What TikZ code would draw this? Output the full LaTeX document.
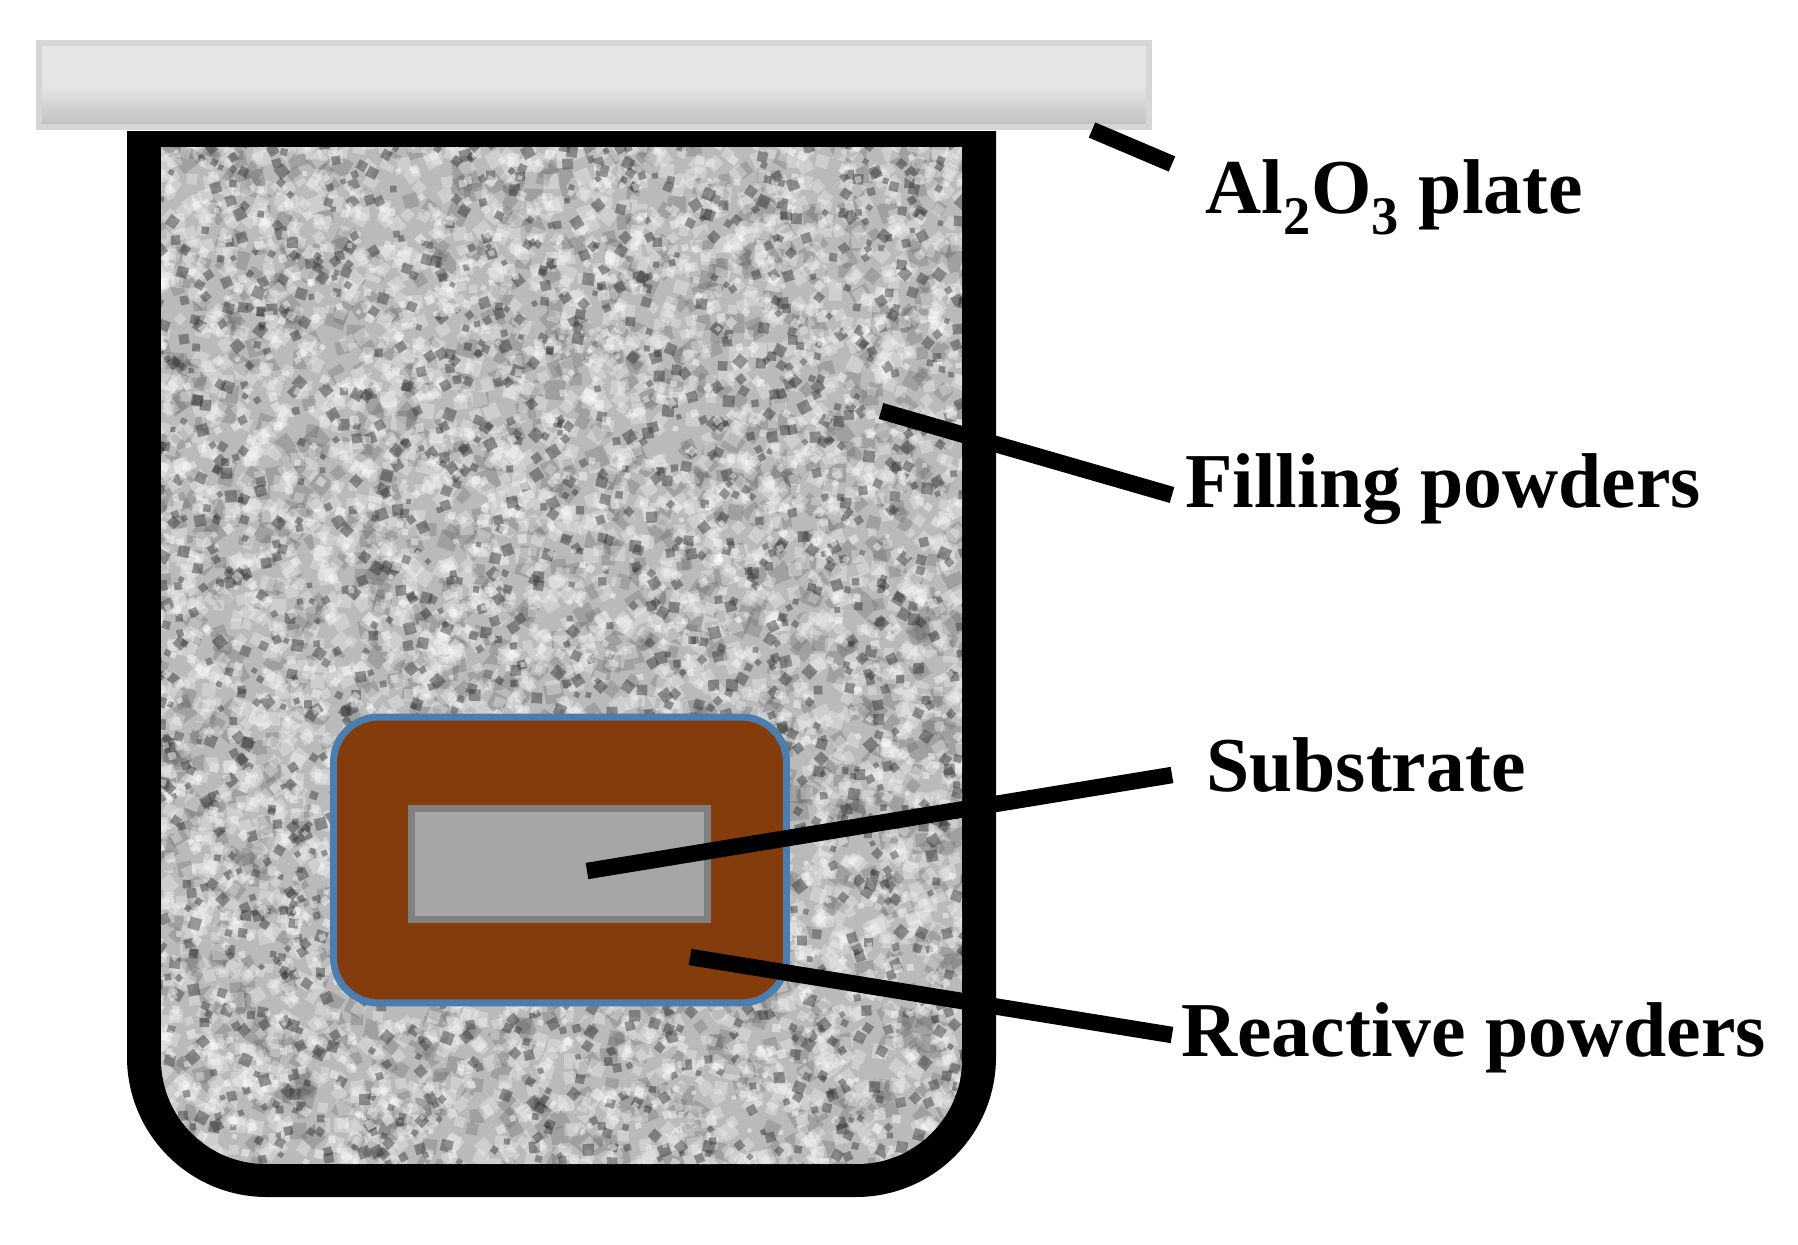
\documentclass[tikz,border=0pt]{standalone}
\usepackage{fontspec}
\setmainfont{Liberation Serif}
\usepackage{tikz}
\usetikzlibrary{positioning}
\definecolor{platefill}{HTML}{E6E6E6}
\definecolor{platelow}{HTML}{BEBEBE}
\definecolor{plateedge}{HTML}{D6D6D6}
\definecolor{brownfill}{HTML}{843C0C}
\definecolor{blueedge}{HTML}{4A7EB0}
\newcommand{\speckle}[4]{
  \foreach \n in {1,...,#1} {
    \pgfmathsetmacro{\px}{150+820*rnd}
    \pgfmathsetmacro{\py}{140+1030*rnd}
    \pgfmathsetmacro{\pr}{#2+#3*rnd}
    \pgfmathsetmacro{\pt}{360*rnd}
    \fill [#4] (\px,\py) -- ++(\pt:\pr) -- ++(\pt+90:\pr) -- ++(\pt+180:\pr) -- cycle;
  }
}

\begin{document}
\begin{tikzpicture}[x=0.02cm,y=-0.02cm]
  \tikzstyle{leader} = [line width=0.33cm,black]
  \tikzstyle{callout} = [inner sep=0pt,font=\fontsize{44.2}{52}\selectfont\bfseries]
  \useasboundingbox (0,0) rectangle (1798,1244);
  \pgfmathsetseed{4217}

  \fill [black] (127,131) [rounded corners=2.8cm] -- (127,1197) -- (996,1197) [sharp corners] -- (996,131) -- cycle;
  \begin{scope}
    \clip (161,147) [rounded corners=2.1cm] -- (161,1164) -- (962,1164) [sharp corners] -- (962,147) -- cycle;
    \fill [black!27!white] (161,147) rectangle (962,1164);
    \begin{scope}[fill opacity=0.3]
      \speckle{1500}{10}{10}{black!60!white}
      \speckle{4000}{8}{8}{white}
    \end{scope}
    \begin{scope}[fill opacity=0.45]
      \speckle{1800}{5}{7}{black!80!white}
      \speckle{1000}{4}{5}{white}
    \end{scope}
  \end{scope}

  \node [rectangle,draw=plateedge,line width=0.12cm,top color=platefill,bottom color=platelow,middle color=platefill,minimum width=22.2cm,minimum height=1.68cm] (plate) at (594,85) {};
  \node [rectangle,rounded corners=0.9cm,draw=blueedge,line width=0.14cm,fill=brownfill,minimum width=9.06cm,minimum height=5.72cm] (reactive) at (560,860) {};
  \node [rectangle,draw=black!50!white,line width=0.14cm,fill=black!35!white,minimum width=5.92cm,minimum height=2.22cm] (substrate) at (559.5,864) {};

  \coordinate (plateTip) at (1092,130);
  \coordinate (plateEnd) at (1172,164);
  \coordinate (fillTip) at (881,411);
  \coordinate (fillEnd) at (1172,495);
  \coordinate (subTip) at (587,871);
  \coordinate (subEnd) at (1172,775);
  \coordinate (reacTip) at (690,957);
  \coordinate (reacEnd) at (1172,1035);

  \draw [leader] (plateTip) -- (plateEnd);
  \draw [leader] (fillTip) -- (fillEnd);
  \draw [leader] (subTip) -- (subEnd);
  \draw [leader] (reacTip) -- (reacEnd);

  \node [callout,right=0.66cm of plateEnd,yshift=-0.66cm] (plateLabel) {Al\textsubscript{2}O\textsubscript{3} plate};
  \node [callout,right=0.26cm of fillEnd,yshift=0.12cm] (fillLabel) {Filling powders};
  \node [callout,right=0.68cm of subEnd,yshift=0.2cm] (subLabel) {Substrate};
  \node [callout,right=0.18cm of reacEnd,yshift=-0.06cm] (reacLabel) {Reactive powders};

\end{tikzpicture}
\end{document}
